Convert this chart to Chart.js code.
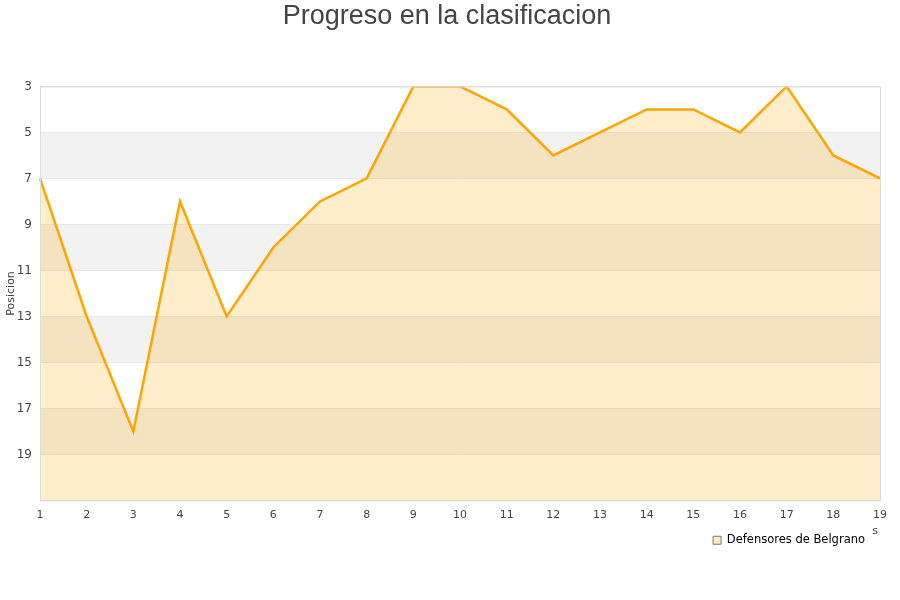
<!DOCTYPE html>
<html>
<head>
<meta charset="utf-8">
<script src="https://cdn.jsdelivr.net/npm/chart.js@4/dist/chart.umd.min.js"></script>
<style>
  html, body { margin: 0; padding: 0; background: #fff; }
  #wrap { width: 900px; height: 600px; }
</style>
</head>
<body>
<div id="wrap"><canvas id="posChart" width="900" height="600"></canvas></div>
<script>
const jornadas = ['1', '2', '3', '4', '5', '6', '7', '8', '9', '10', '11', '12', '13', '14', '15', '16', '17', '18', '19'];
const posiciones = [7, 13, 18, 8, 13, 10, 8, 7, 3, 3, 4, 6, 5, 4, 4, 5, 3, 6, 7];
const equipo = 'Defensores de Belgrano';
const bandas = [[5, 7], [9, 11], [13, 15], [17, 19]];

// alternating grey bands behind the line, plus the plot frame and axis titles
const bandPlugin = {
    id: 'bands',
    beforeDatasetsDraw(chart) {
        const { ctx, chartArea, scales } = chart;
        ctx.save();
        ctx.fillStyle = '#f2f2f2';
        bandas.forEach(([a, b]) => {
            const y1 = scales.y.getPixelForValue(a);
            const y2 = scales.y.getPixelForValue(b);
            ctx.fillRect(chartArea.left, y1, chartArea.right - chartArea.left, y2 - y1);
        });
        ctx.restore();
    },
    afterDraw(chart) {
        const { ctx, chartArea } = chart;
        ctx.save();
        ctx.strokeStyle = '#ddd';
        ctx.lineWidth = 1;
        ctx.strokeRect(chartArea.left + 0.5, chartArea.top + 0.5,
            chartArea.right - chartArea.left, chartArea.bottom - chartArea.top);
        ctx.font = '11px "DejaVu Sans"';
        ctx.fillStyle = '#444';
        ctx.textAlign = 'center';
        ctx.textBaseline = 'middle';
        ctx.fillText('s', chartArea.right - 5, 531);
        ctx.translate(11, (chartArea.top + chartArea.bottom) / 2);
        ctx.rotate(-Math.PI / 2);
        ctx.fillText('Posicion', 0, 0);
        ctx.restore();
    }
};

new Chart(document.getElementById('posChart'), {
    type: 'line',
    data: {
        labels: jornadas,
        datasets: [{
            label: equipo,
            data: posiciones,
            borderColor: '#ffa500',
            backgroundColor: 'rgba(255, 165, 0, 0.2)',
            borderWidth: 2.5,
            fill: 'start',
            tension: 0,
            pointRadius: 0
        }]
    },
    options: {
        responsive: false,
        animation: false,
        layout: { padding: { left: 14, right: 20, top: 0, bottom: 44 } },
        plugins: {
            title: {
                display: true,
                text: 'Progreso en la clasificacion',
                color: '#444',
                font: { family: 'Liberation Sans', size: 27, weight: 'normal' },
                padding: { top: 0, bottom: 54 }
            },
            legend: {
                position: 'bottom',
                align: 'end',
                labels: {
                    font: { family: 'DejaVu Sans', size: 11.5 },
                    color: '#111',
                    boxWidth: 8,
                    boxHeight: 8,
                    padding: 15,
                    generateLabels: (chart) => [{
                        text: equipo,
                        fillStyle: '#ffe8c0',
                        strokeStyle: '#777',
                        lineWidth: 1,
                        datasetIndex: 0
                    }]
                }
            },
            tooltip: { enabled: false }
        },
        scales: {
            x: {
                offset: false,
                grid: { display: false },
                border: { color: '#ddd' },
                ticks: { color: '#444', font: { family: 'DejaVu Sans', size: 11 }, maxRotation: 0, padding: 0 },
                afterFit: (s) => { s.height = 19; }
            },
            y: {
                reverse: true,
                min: 3,
                max: 21,
                grid: { color: '#ddd', drawTicks: false },
                border: { color: '#ddd' },
                ticks: {
                    stepSize: 2,
                    color: '#444',
                    padding: 8,
                    font: { family: 'DejaVu Sans', size: 12 },
                    callback: (v) => (v === 21 ? '' : v)
                },
                afterFit: (s) => { s.width = 26; }
            }
        }
    },
    plugins: [bandPlugin]
});
</script>
</body>
</html>
